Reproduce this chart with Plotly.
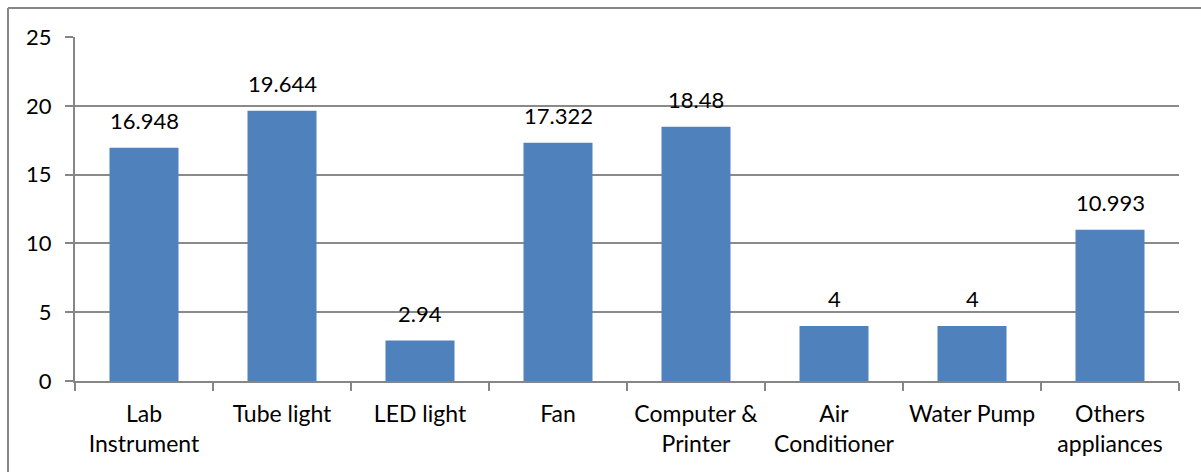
import plotly.graph_objects as go

categories = ["Lab<br>Instrument", "Tube light", "LED light", "Fan", "Computer &amp;<br>Printer",
              "Air<br>Conditioner", "Water Pump", "Others<br>appliances"]
values = [16.948, 19.644, 2.94, 17.322, 18.48, 4, 4, 10.993]
labels = ["16.948", "19.644", "2.94", "17.322", "18.48", "4", "4", "10.993"]
y_ticks = [0, 5, 10, 15, 20, 25]

FONT = "Lato, Carlito, Calibri, sans-serif"

fig = go.Figure(go.Bar(
    x=categories, y=values,
    marker=dict(color="#4F81BD", line=dict(width=0)),
    width=0.5, hoverinfo="x+y",
))

for c, v, t in zip(categories, values, labels):
    fig.add_annotation(x=c, y=v, text=t, showarrow=False, yanchor="bottom",
                       yshift=12, font=dict(size=22, color="black", family=FONT))

L, R, T, B = 75, 22, 37, 91
W, H = 1201, 472
pw, ph = W - L - R, H - T - B

def px(x):
    return (x - L) / pw

def py(y):
    return (H - B - y) / ph

fig.update_layout(
    width=W, height=H, margin=dict(l=L, r=R, t=T, b=B),
    paper_bgcolor="white", plot_bgcolor="white", showlegend=False,
    font=dict(family=FONT, size=22, color="black"),
    xaxis=dict(showline=True, linecolor="#868686", linewidth=2, ticks="outside",
               tickson="boundaries", ticklen=8, tickcolor="#868686", tickwidth=2,
               tickfont=dict(size=23, family=FONT), showgrid=False, ticklabelstandoff=11),
    yaxis=dict(range=[0, 25], tickvals=y_ticks, showline=True, linecolor="#868686",
               linewidth=2, ticks="outside", ticklen=8, tickcolor="#868686", tickwidth=2,
               showgrid=True, gridcolor="#8a8a8a", gridwidth=2, zeroline=False,
               tickfont=dict(size=22, family=FONT), ticklabelstandoff=9),
    shapes=[
        dict(type="line", xref="paper", yref="paper", x0=px(8), x1=px(1201), y0=py(8), y1=py(8),
             line=dict(color="#868686", width=2)),
        dict(type="line", xref="paper", yref="paper", x0=px(8), x1=px(8), y0=py(8), y1=py(472),
             line=dict(color="#868686", width=2)),
    ],
)
fig.write_html("out.html")
